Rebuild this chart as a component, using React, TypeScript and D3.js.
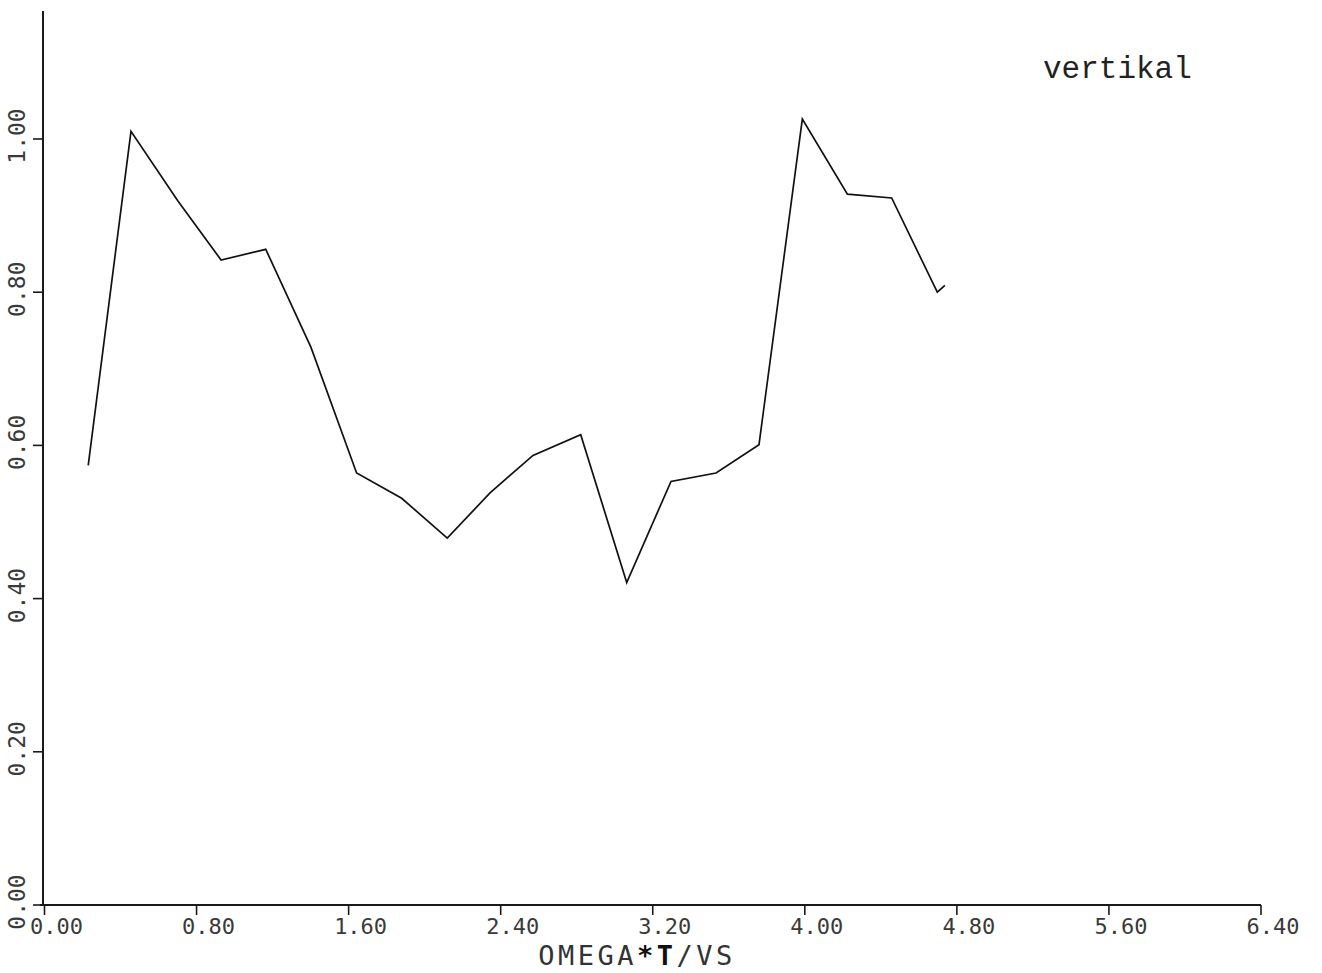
import React from "react";
import * as d3 from "d3";

// Data
const omegaT: number[] = [
  0.23, 0.455, 0.702, 0.929, 1.164, 1.402, 1.642, 1.879, 2.119, 2.344,
  2.57, 2.821, 3.063, 3.296, 3.533, 3.759, 3.987, 4.224, 4.457, 4.697, 4.737,
];
const amplitude: number[] = [
  0.574, 1.01, 0.919, 0.842, 0.856, 0.728, 0.564, 0.531, 0.479, 0.538,
  0.587, 0.614, 0.421, 0.553, 0.564, 0.601, 1.026, 0.928, 0.923, 0.8, 0.809,
];
const xTicks: number[] = [0, 0.8, 1.6, 2.4, 3.2, 4.0, 4.8, 5.6, 6.4];
const yTicks: number[] = [0, 0.2, 0.4, 0.6, 0.8, 1.0];
const xTitleA = "OMEGA";
const xTitleB = "*T";
const xTitleC = "/VS";
const annotation = "vertikal";

export default function App() {
  const W = 1322;
  const H = 973;
  const x = d3.scaleLinear().domain([0, 6.4]).range([44.5, 1261]);
  const y = d3.scaleLinear().domain([0, 1]).range([905, 139]);
  const pts: [number, number][] = omegaT.map((v, i) => [v, amplitude[i]]);
  const line = d3
    .line<[number, number]>()
    .x((d) => x(d[0]))
    .y((d) => y(d[1]));
  const plotFont = "'DejaVu Sans Mono', monospace";
  const yTop = y(1.167);

  return (
    <svg
      width={W}
      height={H}
      style={{ position: "absolute", left: 0, top: 0, background: "#fff" }}
    >
      <rect x={0} y={0} width={W} height={H} fill="#fff" />
      {/* Y axis */}
      <line x1={43} x2={43} y1={yTop} y2={y(0)} stroke="#1a1a1a" strokeWidth={2} />
      {yTicks.map((t) => (
        <g key={"y" + t}>
          <line x1={33} x2={43} y1={y(t)} y2={y(t)} stroke="#1a1a1a" strokeWidth={1.6} />
          <text
            transform={`translate(25,${y(t) - 3}) rotate(-90)`}
            textAnchor="middle"
            fontFamily={plotFont}
            fontSize={23}
            fill="#3a3a3a"
          >
            {t.toFixed(2)}
          </text>
        </g>
      ))}
      {/* X axis */}
      <line x1={40} x2={x(6.4)} y1={y(0)} y2={y(0)} stroke="#1a1a1a" strokeWidth={2.2} />
      {xTicks.map((t) => (
        <g key={"x" + t}>
          <line x1={x(t)} x2={x(t)} y1={y(0)} y2={y(0) + 10} stroke="#1a1a1a" strokeWidth={1.6} />
          <text
            x={x(t) + 12}
            y={934}
            textAnchor="middle"
            fontFamily={plotFont}
            fontSize={22}
            fill="#3a3a3a"
          >
            {t.toFixed(2)}
          </text>
        </g>
      ))}
      <text
        x={637}
        y={965}
        textAnchor="middle"
        fontFamily={plotFont}
        fontSize={27}
        letterSpacing={3.5}
        fill="#333"
      >
        {xTitleA}
        <tspan fontWeight="bold" fill="#111">{xTitleB}</tspan>
        {xTitleC}
      </text>
      {/* Data line */}
      <path d={line(pts) || ""} fill="none" stroke="#111" strokeWidth={1.7} strokeLinejoin="miter" />
      {/* Annotation */}
      <text
        x={1043}
        y={78}
        fontFamily="'Liberation Mono', 'Courier New', monospace"
        fontSize={31}
        fill="#222"
      >
        {annotation}
      </text>
    </svg>
  );
}
